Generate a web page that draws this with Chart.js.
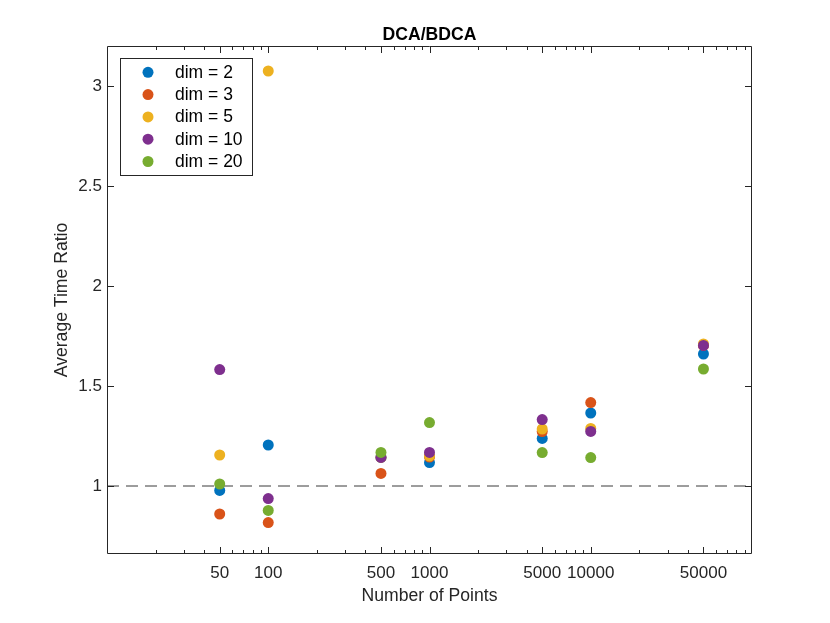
<!DOCTYPE html>
<html>
<head>
<meta charset="utf-8">
<script src="https://cdn.jsdelivr.net/npm/chart.js@4.4.1/dist/chart.umd.min.js"></script>
<style>
  html, body { margin: 0; padding: 0; background: #fff; }
  #wrap { width: 830px; height: 623px; position: relative; }
</style>
</head>
<body>
<div id="wrap"><canvas id="c" width="830" height="623"></canvas></div>
<script>
// ---- Data ----
const points = [50, 100, 500, 1000, 5000, 10000, 50000];
const xTickLabels = [50, 100, 500, 1000, 5000, 10000, 50000];
const yTickValues = [1, 1.5, 2, 2.5, 3];
const seriesLabels = ['dim = 2', 'dim = 3', 'dim = 5', 'dim = 10', 'dim = 20'];
const dim2  = [0.978, 1.205, 1.143, 1.117, 1.238, 1.365, 1.660];
const dim3  = [0.860, 0.817, 1.063, 1.145, 1.272, 1.417, 1.703];
const dim5  = [1.155, 3.075, 1.143, 1.150, 1.285, 1.288, 1.710];
const dim10 = [1.582, 0.937, 1.143, 1.168, 1.332, 1.273, 1.703];
const dim20 = [1.010, 0.878, 1.168, 1.317, 1.167, 1.142, 1.585];
const refLineY = 1;
const titleText = 'DCA/BDCA';
const xTitle = 'Number of Points';
const yTitle = 'Average Time Ratio';

const colors = ['#0072BD', '#D95319', '#EDB120', '#7E2F8E', '#77AC30'];
const axisColor = '#262626';
const FONT = '"Liberation Sans", Arial, Helvetica, sans-serif';

const allSeries = [dim2, dim3, dim5, dim10, dim20];
const datasets = allSeries.map((vals, i) => ({
  label: seriesLabels[i],
  data: points.map((p, j) => ({ x: p, y: vals[j] })),
  backgroundColor: colors[i],
  borderColor: colors[i],
  pointRadius: 5.5,
  pointBorderWidth: 0,
  showLine: false,
  order: 4 - i
}));
datasets.push({
  label: 'ref',
  type: 'line',
  data: [{ x: 10, y: refLineY }, { x: 100000, y: refLineY }],
  borderColor: '#3a3a3a',
  borderWidth: 1,
  borderDash: [12, 7],
  pointRadius: 0,
  fill: false,
  order: 10
});

const boxPlugin = {
  id: 'boxPlugin',
  afterDatasetsDraw(chart) {
    const { ctx, chartArea: a, scales: { x, y } } = chart;
    ctx.save();
    ctx.strokeStyle = axisColor;
    ctx.lineWidth = 1;
    const L = a.left + 0.5, R = a.right - 0.5, T = a.top + 0.5, B = a.bottom - 0.5;
    ctx.beginPath();
    ctx.rect(L, T, R - L, B - T);
    ctx.stroke();
    ctx.beginPath();
    for (let d = 1; d <= 5; d++) {
      for (let m = 1; m <= 9; m++) {
        const v = m * Math.pow(10, d);
        if (v <= 10 || v >= 100000) continue;
        const px = Math.round(x.getPixelForValue(v)) + 0.5;
        const major = xTickLabels.includes(v);
        const len = major ? 6.5 : 3.5;
        ctx.moveTo(px, B); ctx.lineTo(px, B - len);
        ctx.moveTo(px, T); ctx.lineTo(px, T + len);
      }
    }
    yTickValues.forEach(v => {
      const py = Math.round(y.getPixelForValue(v)) + 0.5;
      ctx.moveTo(L, py); ctx.lineTo(L + 6.5, py);
      ctx.moveTo(R, py); ctx.lineTo(R - 6.5, py);
    });
    ctx.stroke();

    // title
    ctx.fillStyle = '#000';
    ctx.font = 'bold 17.6px ' + FONT;
    ctx.textAlign = 'center';
    ctx.textBaseline = 'alphabetic';
    ctx.fillText(titleText, (a.left + a.right) / 2, 40);

    // legend
    const lx = 120.5, ly = 58.5, lw = 132, lh = 117;
    ctx.fillStyle = '#fff';
    ctx.fillRect(lx, ly, lw, lh);
    ctx.strokeStyle = axisColor;
    ctx.strokeRect(lx, ly, lw, lh);
    ctx.font = '17.5px ' + FONT;
    ctx.textAlign = 'left';
    ctx.textBaseline = 'middle';
    chart.data.datasets.slice(0, 5).forEach((ds, i) => {
      const cy = 72.3 + i * 22.3;
      ctx.fillStyle = ds.backgroundColor;
      ctx.beginPath();
      ctx.arc(148, cy, 5.5, 0, Math.PI * 2);
      ctx.fill();
      ctx.fillStyle = '#000';
      ctx.fillText(ds.label, 175, cy + 0.5);
    });
    ctx.restore();
  }
};

new Chart(document.getElementById('c'), {
  type: 'scatter',
  data: { datasets },
  options: {
    responsive: false,
    animation: false,
    devicePixelRatio: 1,
    layout: { padding: { top: 46, right: 78, left: 0, bottom: 0 } },
    plugins: { legend: { display: false }, tooltip: { enabled: false }, title: { display: false } },
    scales: {
      x: {
        type: 'logarithmic',
        min: 10, max: 100000,
        grid: { display: false, drawTicks: false },
        border: { display: false },
        afterBuildTicks: s => { s.ticks = xTickLabels.map(v => ({ value: v })); },
        afterFit: s => { s.height = 69; },
        ticks: {
          autoSkip: false, maxRotation: 0,
          padding: 9.6,
          color: axisColor,
          font: { family: FONT, size: 17 },
          callback: v => String(v)
        },
        title: {
          display: true, text: xTitle, color: axisColor,
          font: { family: FONT, size: 17.6 },
          padding: { top: 0, bottom: 16 }
        }
      },
      y: {
        type: 'linear',
        min: 0.66, max: 3.2,
        grid: { display: false, drawTicks: false },
        border: { display: false },
        afterBuildTicks: s => { s.ticks = yTickValues.map(v => ({ value: v })); },
        afterFit: s => { s.width = 107; },
        ticks: {
          padding: 5,
          color: axisColor,
          font: { family: FONT, size: 17 },
          callback: v => String(v)
        },
        title: {
          display: true, text: yTitle, color: axisColor,
          font: { family: FONT, size: 17.6 },
          padding: { top: 52, bottom: 0 }
        }
      }
    }
  },
  plugins: [boxPlugin]
});
</script>
</body>
</html>
